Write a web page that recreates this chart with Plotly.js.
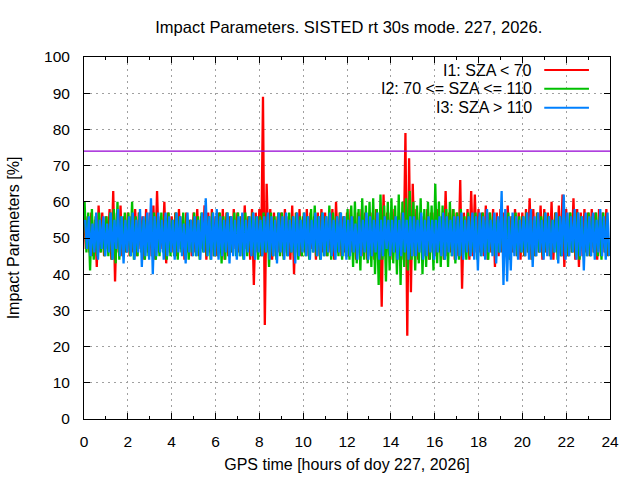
<!DOCTYPE html>
<html>
<head>
<meta charset="utf-8">
<script src="https://cdn.plot.ly/plotly-3.0.1.min.js"></script>
<style>
  html, body { margin: 0; padding: 0; background: #fff; }
  #myDiv { width: 640px; height: 480px; }
</style>
</head>
<body>
<div id="myDiv"></div>
<script>
// impact parameters, 5 min samples over doy 227 (12 per hour)
const i1 = [
  58,47,56,46,57,45,55,42,59,46,57,45,
  56,47,58,44,63,38,57,46,59,45,56,46,
  57,45,56,46,58,45,57,47,56,44,58,46,
  57,45,59,44,63,46,56,47,60,43,57,46,
  56,46,57,45,58,47,56,44,57,46,55,45,
  57,46,58,45,56,47,59,44,57,46,58,45,
  56,45,57,46,58,44,57,45,56,46,58,47,
  57,46,56,45,59,47,56,44,58,37,57,46,
  58,45,89,26,65,46,58,44,57,45,56,46,
  57,45,58,46,56,44,59,40,57,46,58,45,
  56,46,58,45,57,47,56,44,57,45,58,46,
  57,45,56,46,58,44,60,46,57,45,56,46,
  57,45,58,46,56,44,57,46,58,45,57,44,
  56,45,57,44,58,46,57,31,62,45,57,46,
  57,44,58,46,56,45,57,44,79,23,72,35,
  65,45,58,44,57,46,56,45,58,44,57,46,
  57,45,58,46,56,44,63,45,57,46,58,44,
  57,45,66,36,57,46,58,44,63,45,62,46,
  58,46,57,45,59,44,57,46,58,42,57,45,
  58,46,57,45,59,44,56,46,58,45,57,44,
  57,45,58,46,61,44,58,45,57,46,59,44,
  58,46,57,45,60,44,57,46,59,45,62,42,
  58,45,57,46,61,44,58,42,57,45,58,46,
  57,45,58,46,57,44,58,45,57,46,58,45
];
const i2 = [
  60,46,57,41,58,44,56,45,57,46,55,45,
  56,45,57,44,58,43,60,44,56,45,57,46,
  57,45,60,44,56,45,57,46,55,44,56,45,
  56,45,57,44,56,45,57,46,56,44,57,45,
  55,45,57,44,56,46,57,45,56,44,55,46,
  57,45,56,44,57,46,55,45,56,44,57,45,
  56,45,57,43,56,44,57,45,56,46,57,45,
  57,45,56,44,57,45,56,46,57,45,56,44,
  56,45,57,46,56,42,57,45,56,44,57,45,
  57,44,56,45,57,46,56,45,57,44,56,45,
  57,45,56,44,58,46,59,45,56,44,57,45,
  56,45,59,44,57,46,56,45,57,44,56,45,
  58,44,59,42,60,43,58,41,61,44,59,43,
  60,42,61,40,58,37,62,44,59,38,60,41,
  61,43,59,40,62,37,60,42,61,41,63,44,
  60,41,59,43,61,40,58,42,60,44,59,41,
  65,43,60,42,59,44,58,42,60,45,58,43,
  57,44,58,45,56,44,57,45,56,46,57,44,
  56,45,57,46,55,44,57,46,56,45,55,46,
  57,46,56,45,57,44,56,46,57,45,56,46,
  56,45,57,46,56,44,55,45,57,46,56,45,
  57,46,56,45,55,46,57,44,56,45,57,46,
  56,45,57,46,56,45,57,44,56,46,55,45,
  57,45,56,46,57,45,56,44,57,46,56,45
];
const i3 = [
  55,47,56,45,54,46,57,44,55,47,56,45,
  54,46,57,44,55,47,58,45,56,43,55,46,
  56,45,57,44,55,46,58,42,56,45,57,44,
  61,40,56,45,57,46,55,44,57,45,56,46,
  55,44,57,46,56,45,54,43,57,46,55,45,
  56,45,55,44,57,46,61,45,56,44,57,45,
  58,44,56,45,55,46,57,43,56,45,55,44,
  56,45,57,44,55,46,56,45,57,44,56,46,
  55,45,56,46,57,44,56,45,55,43,57,46,
  56,44,57,45,55,46,56,43,57,45,55,46,
  57,45,56,44,55,46,57,45,56,44,57,45,
  56,46,57,45,55,44,56,46,57,45,56,44,
  55,45,56,46,54,44,56,45,55,46,57,44,
  56,45,55,46,57,44,55,45,56,47,55,45,
  55,46,56,44,55,45,57,46,55,44,56,45,
  56,45,55,46,57,44,55,45,56,46,55,44,
  55,46,56,45,57,44,56,46,55,45,56,44,
  56,45,57,44,55,46,56,45,57,44,56,41,
  57,45,56,44,58,46,55,45,57,43,56,46,
  63,37,58,38,56,41,57,45,56,44,55,46,
  56,45,57,44,58,42,56,45,57,46,55,44,
  57,45,56,44,55,46,57,43,56,45,62,44,
  57,45,56,46,58,44,57,45,56,41,57,45,
  56,45,57,44,55,46,58,45,56,44,57,45
];
const seriesNames = ["I1: SZA < 70", "I2: 70 <= SZA <= 110", "I3: SZA > 110"];
const seriesColors = ["#ff0000", "#00c000", "#0080ff"];
// the three classes are sampled in turn, a third of a step apart
const sampleOffset = [0, 1 / 3, 2 / 3];
const thresholdLevel = 74;
const hoursInDay = 24;

const allSeries = [i1, i2, i3];
const data = allSeries.map(function (vals, k) {
  const step = hoursInDay / vals.length;
  const xs = vals.map(function (v, i) { return (i + sampleOffset[k]) * step; });
  return {
    x: xs, y: vals, type: "scatter", mode: "lines",
    name: seriesNames[k],
    line: { color: seriesColors[k], width: 2.3 },
    showlegend: false, hoverinfo: "skip"
  };
});

// gnuplot style key: text on the left, sample line on the right
const keyY = [0.964, 0.912, 0.860];
const annotations = [];
const shapes = [{
  type: "line", xref: "paper", yref: "y",
  x0: 0, x1: 1, y0: thresholdLevel, y1: thresholdLevel,
  line: { color: "#9400d3", width: 1.2 }
}];
seriesNames.forEach(function (nm, k) {
  annotations.push({
    xref: "paper", yref: "paper", x: 0.855, y: keyY[k],
    xanchor: "right", yanchor: "middle", showarrow: false,
    text: nm, font: { size: 16, color: "#000" }
  });
  shapes.push({
    type: "line", xref: "paper", yref: "paper",
    x0: 0.875, x1: 0.96, y0: keyY[k], y1: keyY[k],
    line: { color: seriesColors[k], width: 2 }
  });
});

const layout = {
  width: 640, height: 480,
  margin: { l: 84, r: 30, t: 57, b: 61 },
  paper_bgcolor: "#fff", plot_bgcolor: "#fff",
  font: { family: "Liberation Sans, Arial, sans-serif", size: 15.5, color: "#000" },
  title: {
    text: "Impact Parameters. SISTED rt 30s mode. 227, 2026.",
    font: { size: 16.5 }, x: 0.545, xanchor: "center", y: 0.943, yanchor: "middle"
  },
  xaxis: {
    range: [0, 24], dtick: 2, tick0: 0,
    ticks: "inside", ticklen: 6, tickcolor: "#000",
    minor: { dtick: 1, ticks: "inside", ticklen: 3, tickcolor: "#000" },
    showline: true, linecolor: "#000", linewidth: 1, mirror: "allticks",
    showgrid: true, gridcolor: "#a0a0a0", griddash: "2px,4px", gridwidth: 1,
    zeroline: false, ticklabelstandoff: 8,
    title: { text: "GPS time [hours of doy 227, 2026]", standoff: 10, font: { size: 16 } }
  },
  yaxis: {
    range: [0, 100], dtick: 10, tick0: 0,
    ticks: "inside", ticklen: 6, tickcolor: "#000",
    showline: true, linecolor: "#000", linewidth: 1, mirror: "allticks",
    showgrid: true, gridcolor: "#a0a0a0", griddash: "2px,4px", gridwidth: 1,
    zeroline: false, ticklabelstandoff: 10,
    title: { text: "Impact Parameters [%]", standoff: 20, font: { size: 16 } }
  },
  showlegend: false,
  annotations: annotations,
  shapes: shapes
};

Plotly.newPlot("myDiv", data, layout, { staticPlot: true, displayModeBar: false });
</script>
</body>
</html>
